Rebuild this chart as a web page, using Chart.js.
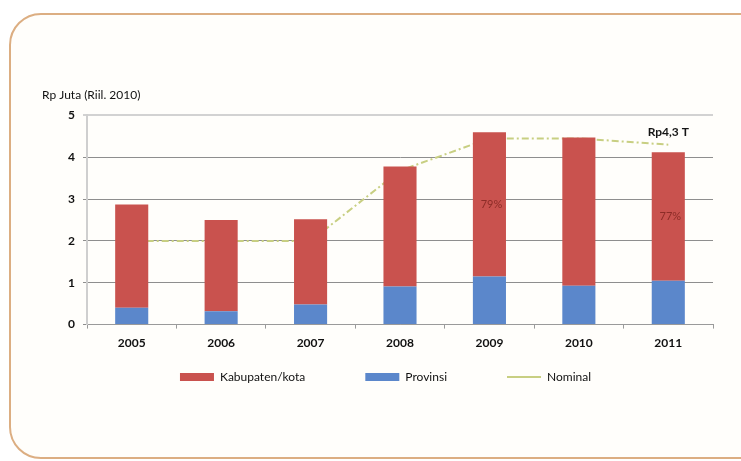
<!DOCTYPE html>
<html>
<head>
<meta charset="utf-8">
<script src="https://cdn.jsdelivr.net/npm/chart.js@4/dist/chart.umd.min.js"></script>
<style>
  body { margin: 0; background: #fff; }
  #wrap { position: relative; width: 741px; height: 461px; overflow: hidden; }
  #frame {
    position: absolute; left: 9px; top: 13px; width: 780px; height: 442px;
    border: 2px solid #dcae82; border-radius: 32px; background: #fffefb;
  }
  #c { position: absolute; left: 0; top: 0; }
</style>
</head>
<body>
<div id="wrap">
  <div id="frame"></div>
  <canvas id="c" width="741" height="461"></canvas>
</div>
<script>
var years = ['2005', '2006', '2007', '2008', '2009', '2010', '2011'];
var provinsi = [0.40, 0.32, 0.48, 0.91, 1.15, 0.93, 1.05];
var kabupaten = [2.47, 2.18, 2.04, 2.87, 3.45, 3.54, 3.07];
var nominal = [2.0, 2.0, 2.0, 3.68, 4.45, 4.45, 4.3];
var pctLabels = ['', '', '', '', '79%', '', '77%'];
var nominalNote = 'Rp4,3 T';
var legendRank = [1, 0, 2];

// labels inside the red bars and the note at the end of the line
var barLabels = {
  id: 'barLabels',
  afterLayout: function(chart) {
    // legend sits close under the year labels, wide gaps between items
    var lg = chart.legend;
    lg.top -= 46;
    lg.bottom -= 46;
    lg.left += 8;
    lg.right += 8;
  },
  afterDatasetsDraw: function(chart) {
    var ctx = chart.ctx;
    var bars = chart.getDatasetMeta(1).data;
    ctx.save();
    ctx.textAlign = 'center';
    ctx.textBaseline = 'middle';
    ctx.font = '11px Lato';
    ctx.fillStyle = '#8c2c27';
    bars.forEach(function(bar, i) {
      if (pctLabels[i]) ctx.fillText(pctLabels[i], bar.x + 2, (bar.y + bar.base) / 2);
    });
    var pts = chart.getDatasetMeta(2).data;
    var last = pts[pts.length - 1];
    ctx.font = 'bold 12px Lato';
    ctx.fillStyle = '#151515';
    ctx.fillText(nominalNote, last.x, last.y - 13);
    ctx.restore();
  }
};

new Chart(document.getElementById('c'), {
  type: 'bar',
  data: {
    labels: years,
    datasets: [{
      label: 'Provinsi',
      data: provinsi,
      backgroundColor: '#5b87cb',
      pointStyle: 'rect',
      stack: 'a'
    }, {
      label: 'Kabupaten/kota',
      data: kabupaten,
      backgroundColor: '#c9524e',
      pointStyle: 'rect',
      stack: 'a'
    }, {
      type: 'line',
      label: 'Nominal',
      data: nominal,
      borderColor: '#c8cf82',
      backgroundColor: '#c8cf82',
      borderWidth: 2,
      borderDash: [7, 3, 2, 3],
      pointRadius: 0,
      pointStyle: 'line',
      stack: 'n',
      order: 1
    }]
  },
  options: {
    responsive: false,
    animation: false,
    layout: { padding: { top: 88, left: 42, right: 28, bottom: 22 } },
    datasets: { bar: { categoryPercentage: 1, barPercentage: 0.37 } },
    scales: {
      x: {
        stacked: true,
        grid: { display: true, drawOnChartArea: false, drawTicks: true, tickLength: 4, color: '#9a9a9a' },
        border: { color: '#9a9a9a', width: 1 },
        ticks: { padding: 7, color: '#111', font: { family: 'Lato', size: 12, weight: 'bold' } }
      },
      y: {
        stacked: true,
        min: 0,
        max: 5,
        afterFit: function(s) { s.width = 45; },
        grid: {
          tickLength: 4,
          color: function(c) { return c.tick.value === 5 ? '#d2d2d2' : '#8e8e8e'; },
          lineWidth: function(c) { return c.tick.value === 5 ? 2 : 1; }
        },
        border: { color: '#cfcfcf', width: 2 },
        ticks: { stepSize: 1, padding: 8, color: '#111', font: { family: 'Lato', size: 12, weight: 'bold' } }
      }
    },
    plugins: {
      tooltip: { enabled: false },
      title: {
        display: true,
        text: 'Rp Juta (Riil. 2010)',
        align: 'start',
        color: '#111',
        font: { family: 'Lato', size: 12, weight: 'normal' },
        padding: { top: 0, bottom: 13 }
      },
      legend: {
        position: 'bottom',
        labels: {
          usePointStyle: true,
          pointStyleWidth: 34,
          boxHeight: 8,
          padding: 60,
          color: '#111',
          font: { family: 'Lato', size: 12 },
          sort: function(a, b) { return legendRank[a.datasetIndex] - legendRank[b.datasetIndex]; }
        }
      }
    }
  },
  plugins: [barLabels]
});
</script>
</body>
</html>
